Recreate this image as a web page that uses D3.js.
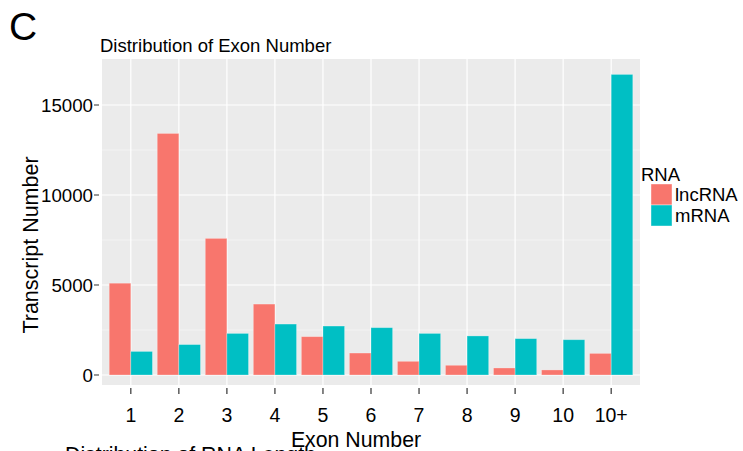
<!DOCTYPE html>
<html><head><meta charset="utf-8">
<script src="https://cdn.jsdelivr.net/npm/d3@7"></script>
<style>body{margin:0;background:#fff}svg{display:block;font-family:"Liberation Sans",Arial,sans-serif}</style>
</head><body><svg id="c" width="743" height="451"></svg>
<script>
const categories = ["1","2","3","4","5","6","7","8","9","10","10+"];
const seriesNames = ["lncRNA","mRNA"];
const lncRNA = [5100,13420,7590,3940,2130,1220,760,540,390,280,1200];
const mRNA   = [1310,1690,2310,2830,2720,2630,2310,2170,2020,1960,16700];
const yTicks = [0,5000,10000,15000];
const colors = ["#F8766D","#00BFC4"];

const svg = d3.select("#c");
const L=102, R=640, T=59, B=385;
const x = d3.scalePoint().domain(categories).range([L,R]).padding(0.6);
const unit = x.step();
const y = d3.scaleLinear().domain([-556,17556]).range([B,T]);

svg.append("rect").attr("x",L).attr("y",T).attr("width",R-L).attr("height",B-T).attr("fill","#EBEBEB");
[2500,7500,12500].forEach(v=>svg.append("line").attr("x1",L).attr("x2",R).attr("y1",y(v)).attr("y2",y(v)).attr("stroke","#F5F5F5").attr("stroke-width",0.8));
yTicks.forEach(v=>svg.append("line").attr("x1",L).attr("x2",R).attr("y1",y(v)).attr("y2",y(v)).attr("stroke","#fff").attr("stroke-width",1.2));
categories.forEach(c=>svg.append("line").attr("x1",x(c)).attr("x2",x(c)).attr("y1",T).attr("y2",B).attr("stroke","#fff").attr("stroke-width",1.2));

const bw = unit*0.9/2;
[lncRNA,mRNA].forEach((arr,si)=>{
  svg.append("g").selectAll("rect").data(categories).join("rect")
    .attr("x",c=>x(c)-unit*0.45+si*bw)
    .attr("width",bw)
    .attr("y",(c,i)=>y(arr[i]))
    .attr("height",(c,i)=>y(0)-y(arr[i]))
    .attr("fill",colors[si])
    .attr("stroke","#fff").attr("stroke-opacity",0.35).attr("stroke-width",0.8);
});

yTicks.forEach(v=>{
  svg.append("line").attr("x1",94).attr("x2",99).attr("y1",y(v)).attr("y2",y(v)).attr("stroke","#333").attr("stroke-width",1);
  svg.append("text").attr("x",93).attr("y",y(v)).attr("dy","0.36em").attr("text-anchor","end").attr("font-size",18.7).attr("fill","#000").text(d3.format("d")(v));
});
categories.forEach(c=>{
  svg.append("line").attr("x1",x(c)).attr("x2",x(c)).attr("y1",388).attr("y2",394).attr("stroke","#333").attr("stroke-width",1.2);
  svg.append("text").attr("x",x(c)).attr("y",422).attr("text-anchor","middle").attr("font-size",19.5).attr("fill","#000").text(c);
});
svg.append("text").attr("x",356).attr("y",447).attr("text-anchor","middle").attr("font-size",21.3).text("Exon Number");
svg.append("text").attr("transform","translate(38,245) rotate(-90)").attr("text-anchor","middle").attr("font-size",21.5).text("Transcript Number");
svg.append("text").attr("x",100).attr("y",52).attr("font-size",18.5).text("Distribution of Exon Number");
svg.append("text").attr("x",9).attr("y",40).attr("font-size",39).text("C");
svg.append("text").attr("x",65).attr("y",462).attr("font-size",21.3).text("Distribution of RNA Length");

svg.append("text").attr("x",641).attr("y",181).attr("font-size",18.5).text("RNA");
seriesNames.forEach((n,i)=>{
  const yy=184+i*21;
  svg.append("rect").attr("x",651).attr("y",yy).attr("width",21).attr("height",21).attr("fill",colors[i]).attr("stroke","#fff").attr("stroke-width",0.8).attr("stroke-opacity",0.5);
  svg.append("text").attr("x",675).attr("y",yy+10.5).attr("dy","0.36em").attr("font-size",18.5).text(n);
});
</script></body></html>
